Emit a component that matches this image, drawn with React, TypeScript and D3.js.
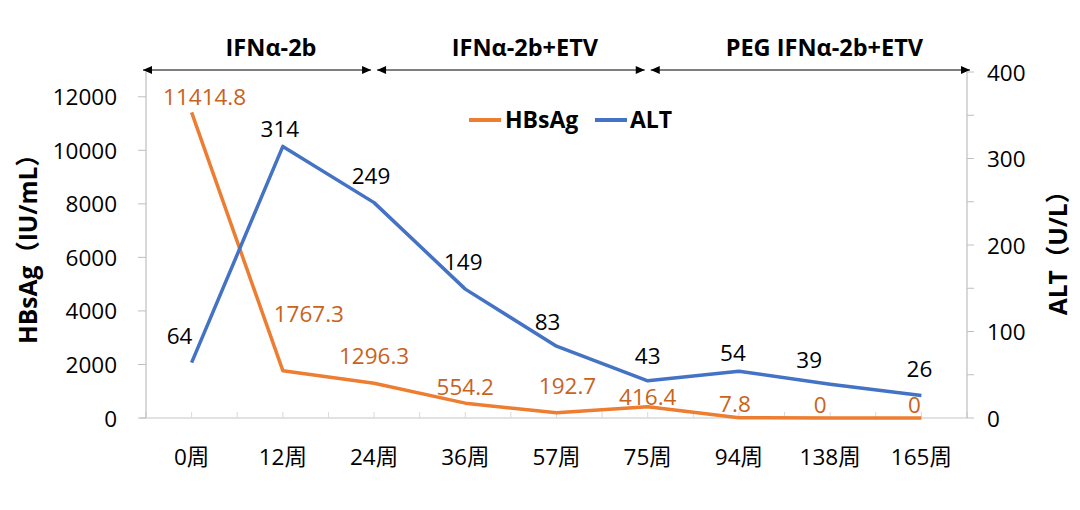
import { useEffect, useRef } from "react";
import * as d3 from "d3";

// chart data
const weeks = ["0周", "12周", "24周", "36周", "57周", "75周", "94周", "138周", "165周"];
const hbsag = [11414.8, 1767.3, 1296.3, 554.2, 192.7, 416.4, 7.8, 0, 0];
const alt = [64, 314, 249, 149, 83, 43, 54, 39, 26];
const leftTicks = [0, 2000, 4000, 6000, 8000, 10000, 12000];
const rightTicks = [0, 100, 200, 300, 400];
const rightMinorTicks = [50, 150, 250, 350];
const phases = ["IFNα-2b", "IFNα-2b+ETV", "PEG IFNα-2b+ETV"];
const phaseBreaks = [2, 5]; // category index where each treatment phase ends

// label nudges (the source chart had hand-placed labels)
const hbsagLabelOffset: [number, number][] = [
  [13, -16], [26, -57], [0, -28], [0, -17], [11, -27], [0, -10], [-4, -14], [-10, -14], [-7, -14],
];
const altLabelOffset: [number, number][] = [
  [-12, -27], [-3, -18], [-3, -27], [-2, -28], [-9, -25], [0, -25], [-6, -19], [-21, -25], [-2, -27],
];

const W = 1080;
const H = 510;
const margin = { left: 146, right: 113, top: 72, bottom: 92 };
const orange = "#ED7D31";
const orangeText = "#C9621C";
const blue = "#4472C4";
const font = "'Open Sans', 'Noto Sans CJK SC', sans-serif";
const fs = 22.5;

export default function App() {
  const ref = useRef<SVGSVGElement>(null);

  useEffect(() => {
    const svg = d3.select(ref.current);
    svg.selectAll("*").remove();

    const x0 = margin.left;
    const x1 = W - margin.right;
    const y0 = H - margin.bottom;
    const yTop = margin.top;

    const x = d3.scaleBand<string>().domain(weeks).range([x0, x1]);
    const cx = (i: number) => (x(weeks[i]) as number) + x.bandwidth() / 2;
    const yL = d3.scaleLinear().domain([0, 13000]).range([y0, yTop - 2]);
    const yR = d3.scaleLinear().domain([0, 400]).range([y0, yTop]);

    const g = svg.append("g").attr("font-family", font);

    // x axis
    g.append("line")
      .attr("x1", x0 - 6).attr("x2", x1)
      .attr("y1", y0).attr("y2", y0)
      .attr("stroke", "#d9d9d9").attr("stroke-width", 1.5);
    const halfSteps = d3.range(0, weeks.length * 2 + 1).map((k) => x0 + (k * x.bandwidth()) / 2);
    g.selectAll(".xtick")
      .data(halfSteps)
      .join("line")
      .attr("x1", (d) => d).attr("x2", (d) => d)
      .attr("y1", y0).attr("y2", y0 - 6)
      .attr("stroke", "#d9d9d9");
    g.selectAll(".xlab")
      .data(weeks)
      .join("text")
      .attr("x", (_, i) => cx(i))
      .attr("y", 456)
      .attr("text-anchor", "middle")
      .attr("dominant-baseline", "central")
      .attr("font-size", fs)
      .attr("fill", "#000")
      .text((d) => d);

    // left axis
    g.append("line")
      .attr("x1", x0).attr("x2", x0)
      .attr("y1", yTop - 2).attr("y2", y0)
      .attr("stroke", "#bfbfbf").attr("stroke-width", 1.2);
    g.selectAll(".ltick")
      .data(leftTicks)
      .join("line")
      .attr("x1", x0 - 8).attr("x2", x0)
      .attr("y1", (d) => yL(d)).attr("y2", (d) => yL(d))
      .attr("stroke", "#bfbfbf");
    g.selectAll(".llab")
      .data(leftTicks)
      .join("text")
      .attr("x", 117)
      .attr("y", (d) => yL(d))
      .attr("text-anchor", "end")
      .attr("dominant-baseline", "central")
      .attr("font-size", fs)
      .text((d) => d);
    g.append("text")
      .attr("transform", `translate(27, 243) rotate(-90)`)
      .attr("text-anchor", "middle")
      .attr("dominant-baseline", "central")
      .attr("font-size", 24.5)
      .attr("font-weight", "bold")
      .text("HBsAg（IU/mL）");

    // right axis
    g.append("line")
      .attr("x1", x1).attr("x2", x1)
      .attr("y1", yTop).attr("y2", y0)
      .attr("stroke", "#bfbfbf").attr("stroke-width", 1.2);
    g.selectAll(".rtick")
      .data([...rightTicks, ...rightMinorTicks])
      .join("line")
      .attr("x1", x1).attr("x2", x1 + 7)
      .attr("y1", (d) => yR(d)).attr("y2", (d) => yR(d))
      .attr("stroke", "#bfbfbf");
    g.selectAll(".rlab")
      .data(rightTicks)
      .join("text")
      .attr("x", 987)
      .attr("y", (d) => yR(d))
      .attr("dominant-baseline", "central")
      .attr("font-size", fs)
      .text((d) => d);
    g.append("text")
      .attr("transform", `translate(1057, 247) rotate(-90)`)
      .attr("text-anchor", "middle")
      .attr("dominant-baseline", "central")
      .attr("font-size", 24.5)
      .attr("font-weight", "bold")
      .text("ALT（U/L）");

    // lines
    const lineL = d3.line<number>().x((_, i) => cx(i)).y((d) => yL(d));
    const lineR = d3.line<number>().x((_, i) => cx(i)).y((d) => yR(d));
    g.append("path")
      .attr("d", lineL(hbsag))
      .attr("fill", "none").attr("stroke", orange)
      .attr("stroke-width", 3.5).attr("stroke-linejoin", "round");
    g.append("path")
      .attr("d", lineR(alt))
      .attr("fill", "none").attr("stroke", blue)
      .attr("stroke-width", 3.5).attr("stroke-linejoin", "round");

    // data labels
    g.selectAll(".hlab")
      .data(hbsag)
      .join("text")
      .attr("x", (_, i) => cx(i) + hbsagLabelOffset[i][0])
      .attr("y", (d, i) => yL(d) + hbsagLabelOffset[i][1])
      .attr("text-anchor", "middle")
      .attr("dominant-baseline", "central")
      .attr("font-size", fs)
      .attr("fill", orangeText)
      .text((d) => d);
    g.selectAll(".alab")
      .data(alt)
      .join("text")
      .attr("x", (_, i) => cx(i) + altLabelOffset[i][0])
      .attr("y", (d, i) => yR(d) + altLabelOffset[i][1])
      .attr("text-anchor", "middle")
      .attr("dominant-baseline", "central")
      .attr("font-size", fs)
      .attr("fill", "#000")
      .text((d) => d);

    // legend
    const leg = g.append("g").attr("font-size", 23).attr("font-weight", "bold");
    leg.append("line").attr("x1", 469).attr("x2", 501).attr("y1", 120).attr("y2", 120)
      .attr("stroke", orange).attr("stroke-width", 4);
    leg.append("text").attr("x", 505).attr("y", 119).attr("dominant-baseline", "central").text("HBsAg");
    leg.append("line").attr("x1", 595).attr("x2", 627).attr("y1", 120).attr("y2", 120)
      .attr("stroke", blue).attr("stroke-width", 4);
    leg.append("text").attr("x", 630).attr("y", 119).attr("dominant-baseline", "central").text("ALT");

    // treatment phase arrows
    const bounds = [x0 - 3, ...phaseBreaks.map((i) => cx(i) - 3), x1 + 3];
    const ay = 70;
    const ah = 9;
    phases.forEach((p, k) => {
      const a = bounds[k] + (k === 0 ? 0 : 6);
      const b = bounds[k + 1];
      g.append("line").attr("x1", a).attr("x2", b).attr("y1", ay).attr("y2", ay)
        .attr("stroke", "#000").attr("stroke-width", 1);
      g.append("path").attr("d", `M${a},${ay}L${a + ah},${ay - 4}L${a + ah},${ay + 4}Z`).attr("fill", "#000");
      g.append("path").attr("d", `M${b},${ay}L${b - ah},${ay - 4}L${b - ah},${ay + 4}Z`).attr("fill", "#000");
      g.append("text")
        .attr("x", (a + b) / 2 + 14)
        .attr("y", 47)
        .attr("text-anchor", "middle")
        .attr("dominant-baseline", "central")
        .attr("font-size", 23.5)
        .attr("font-weight", "bold")
        .text(p);
    });
  }, []);

  return (
    <svg
      ref={ref}
      width={W}
      height={H}
      style={{ position: "absolute", left: 0, top: 0, background: "#fff" }}
    />
  );
}
